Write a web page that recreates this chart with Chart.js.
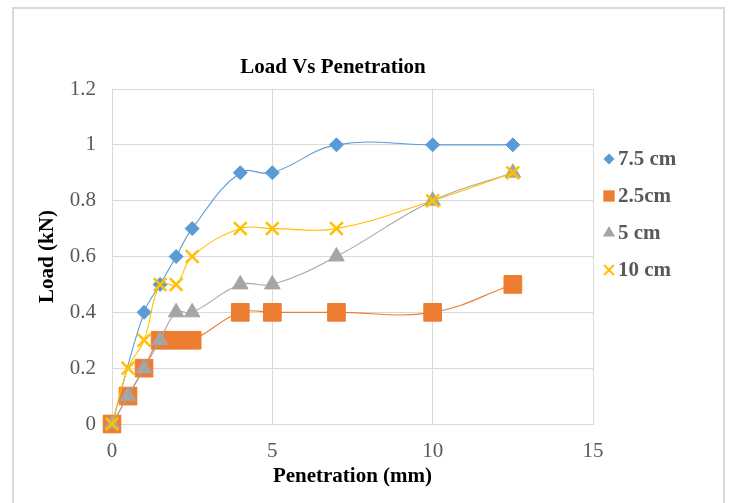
<!DOCTYPE html>
<html>
<head>
<meta charset="utf-8">
<script src="https://cdn.jsdelivr.net/npm/chart.js@4"></script>
<style>
  body { margin: 0; background: #fff; }
  #wrap { position: relative; width: 729px; height: 503px; }
  #frame { position: absolute; left: 12px; top: 7px; width: 709px; height: 510px; border: 2px solid #d9d9d9; }
  canvas { position: absolute; left: 0; top: 0; }
</style>
</head>
<body>
<div id="wrap">
  <div id="frame"></div>
  <canvas id="grafico" width="729" height="503"></canvas>
</div>
<script>
// Penetração (mm)
const penetracao = [0, 0.5, 1, 1.5, 2, 2.5, 4, 5, 7, 10, 12.5];

// Carga (kN) de cada série (null = sem ponto)
const carga75 = [0, null, 0.4, 0.5, 0.6, 0.7, 0.9, 0.9, 1, 1, 1];
const carga25 = [0, 0.1, 0.2, 0.3, 0.3, 0.3, 0.4, 0.4, 0.4, 0.4, 0.5];
const carga5 = [0, 0.1, 0.2, 0.3, 0.4, 0.4, 0.5, 0.5, 0.6, 0.8, 0.9];
const carga10 = [0, 0.2, 0.3, 0.5, 0.5, 0.6, 0.7, 0.7, 0.7, 0.8, 0.9];

const nomesSeries = ['7.5 cm', '2.5cm', '5 cm', '10 cm'];
const xTicks = [0, 5, 10, 15];
const yTicks = [0, 0.2, 0.4, 0.6, 0.8, 1, 1.2];

const fonte = '"Liberation Serif", "Times New Roman", serif';

function pontos(valores) {
    return penetracao
        .map((x, i) => ({ x: x, y: valores[i] }))
        .filter(p => p.y !== null);
}

const estilos = [
    { cor: '#5B9BD5', forma: 'rectRot', raio: 7, borda: 1, legRaio: 5.5 },
    { cor: '#ED7D31', forma: 'rect', raio: 12.5, borda: 1, legRaio: 8 },
    { cor: '#A5A5A5', forma: 'triangle', raio: 9, borda: 1, legRaio: 7 },
    { cor: '#FFC000', forma: 'crossRot', raio: 9, borda: 2.5, legRaio: 7 }
];

const series = [carga75, carga25, carga5, carga10];

const datasets = series.map((valores, i) => ({
    label: nomesSeries[i],
    data: pontos(valores),
    borderColor: estilos[i].cor,
    backgroundColor: estilos[i].cor,
    borderWidth: 1.1,
    tension: 0.4,
    clip: false,
    pointStyle: estilos[i].forma,
    pointRadius: estilos[i].raio,
    pointBorderWidth: estilos[i].borda,
    pointBorderColor: estilos[i].cor,
    pointBackgroundColor: estilos[i].cor,
    order: 4 - i
}));

function desenhaMarca(ctx, forma, r, x, y) {
    ctx.beginPath();
    if (forma === 'rectRot') {
        ctx.moveTo(x, y - r); ctx.lineTo(x + r, y); ctx.lineTo(x, y + r); ctx.lineTo(x - r, y);
        ctx.closePath(); ctx.fill();
    } else if (forma === 'rect') {
        const s = r * Math.SQRT1_2;
        ctx.rect(x - s, y - s, 2 * s, 2 * s); ctx.fill();
    } else if (forma === 'triangle') {
        const h = r * Math.sqrt(3) / 2;
        ctx.moveTo(x, y - r); ctx.lineTo(x + h, y + r / 2); ctx.lineTo(x - h, y + r / 2);
        ctx.closePath(); ctx.fill();
    } else {
        const d = r * Math.SQRT1_2;
        ctx.moveTo(x - d, y - d); ctx.lineTo(x + d, y + d);
        ctx.moveTo(x + d, y - d); ctx.lineTo(x - d, y + d);
        ctx.stroke();
    }
}

// Título e legenda desenhados à mão para ficar na mesma posição
const extras = {
    id: 'extras',
    afterDraw(chart) {
        const ctx = chart.ctx;
        ctx.save();
        ctx.fillStyle = '#000';
        ctx.font = 'bold 21px ' + fonte;
        ctx.textAlign = 'center';
        ctx.textBaseline = 'middle';
        ctx.fillText('Load Vs Penetration', 333, 68);

        ctx.textAlign = 'left';
        ctx.font = 'bold 21px ' + fonte;
        nomesSeries.forEach((nome, i) => {
            const y = 159 + i * 37;
            const e = estilos[i];
            ctx.fillStyle = e.cor;
            ctx.strokeStyle = e.cor;
            ctx.lineWidth = e.forma === 'crossRot' ? 2 : 1;
            desenhaMarca(ctx, e.forma, e.legRaio, 609, y);
            ctx.fillStyle = '#595959';
            ctx.fillText(nome, 618, y + 1);
        });
        ctx.restore();
    }
};

const ctx = document.getElementById('grafico').getContext('2d');
new Chart(ctx, {
    type: 'line',
    data: { datasets: datasets },
    plugins: [extras],
    options: {
        responsive: false,
        animation: false,
        layout: { padding: { left: 30, right: 136, top: 89, bottom: 14 } },
        plugins: {
            legend: { display: false },
            tooltip: { enabled: false }
        },
        scales: {
            x: {
                type: 'linear',
                min: 0,
                max: 15,
                afterBuildTicks: (s) => { s.ticks = xTicks.map(v => ({ value: v })); },
                afterFit: (s) => { s.height = 65; },
                grid: { color: '#d9d9d9', drawTicks: false },
                border: { color: '#d9d9d9' },
                ticks: { color: '#595959', font: { family: fonte, size: 21 }, padding: 15, callback: v => String(v) },
                title: { display: true, text: 'Penetration (mm)', color: '#000', font: { family: fonte, size: 21, weight: 'bold' }, padding: 0 }
            },
            y: {
                min: 0,
                max: 1.2,
                afterBuildTicks: (s) => { s.ticks = yTicks.map(v => ({ value: v })); },
                afterFit: (s) => { s.width = 112 - 30; },
                grid: { color: '#d9d9d9', drawTicks: false },
                border: { display: false },
                ticks: { color: '#595959', font: { family: fonte, size: 21 }, padding: 16, callback: v => String(v) },
                title: { display: true, text: 'Load (kN)', color: '#000', font: { family: fonte, size: 21, weight: 'bold' }, padding: 5 }
            }
        }
    }
});
</script>
</body>
</html>
